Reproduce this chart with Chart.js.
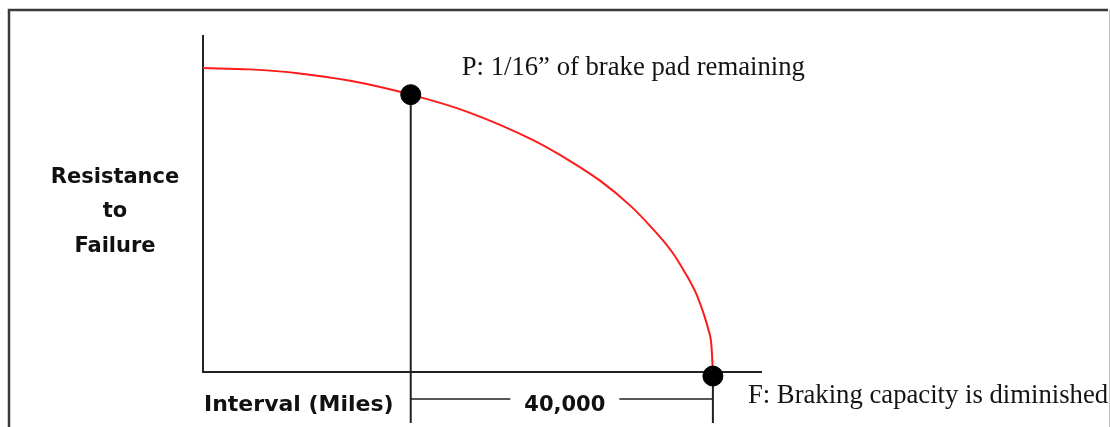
<!DOCTYPE html>
<html>
<head>
<meta charset="utf-8">
<script src="https://cdn.jsdelivr.net/npm/chart.js@4.4.1/dist/chart.umd.min.js"></script>
<style>
  html, body { margin: 0; padding: 0; background: #ffffff; }
  #wrap { position: relative; width: 1110px; height: 427px; overflow: hidden; }
  canvas { display: block; }
</style>
</head>
<body>
<div id="wrap"><canvas id="c" width="1110" height="427"></canvas></div>
<script>
// ---- data ----
const curveMiles      = [0, 6200, 12800, 19500, 27500, 35000, 43700, 48600, 52600, 56600, 59200, 61900, 63600, 65200, 66200, 66900, 67300, 67500];
const curveResistance = [90.2, 89.8, 88.6, 86.4, 82.3, 77.2, 68.8, 62.6, 56.7, 49.3, 43.3, 36.2, 30.3, 23.7, 17.8, 12.6, 8.0, 0];
const markerNames      = ['P', 'F'];
const markerMiles      = [27500, 67500];
const markerResistance = [82.3, -1.2];
const pLabel = 'P: 1/16\u201D of brake pad remaining';
const fLabel = 'F: Braking capacity is diminished';
const yTitleLines = ['Resistance', 'to', 'Failure'];
const xTitle = 'Interval (Miles)';
const intervalLabel = '40,000';
const xMax = 74000;
const yMax = 100;

const curveData  = curveMiles.map((m, i) => ({ x: m, y: curveResistance[i] }));
const markerData = markerMiles.map((m, i) => ({ x: m, y: markerResistance[i], name: markerNames[i] }));

const SANS  = '"DejaVu Sans", sans-serif';
const SERIF = '"Liberation Serif", "Times New Roman", serif';

const decor = {
  id: 'decor',
  beforeDatasetsDraw(chart) {
    const { ctx, chartArea: a, scales: { x, y } } = chart;
    ctx.save();
    // outer frame
    ctx.strokeStyle = '#3a3a3a';
    ctx.lineWidth = 2.5;
    ctx.beginPath();
    ctx.moveTo(9, 440); ctx.lineTo(9, 10); ctx.lineTo(1108, 10);
    ctx.stroke();
    ctx.strokeStyle = '#bdbdbd';
    ctx.lineWidth = 1;
    ctx.beginPath();
    ctx.moveTo(1109.5, 10); ctx.lineTo(1109.5, 440);
    ctx.stroke();

    // axes
    ctx.strokeStyle = '#222222';
    ctx.lineWidth = 2;
    ctx.beginPath();
    ctx.moveTo(x.getPixelForValue(0), a.top);
    ctx.lineTo(x.getPixelForValue(0), y.getPixelForValue(0));
    ctx.lineTo(x.getPixelForValue(xMax), y.getPixelForValue(0));
    ctx.stroke();

    // drop lines from P and F
    const bottom = a.bottom + 51;
    const dimY = a.bottom + 27;
    const px = x.getPixelForValue(markerMiles[0]);
    const fx = x.getPixelForValue(markerMiles[1]);
    ctx.beginPath();
    ctx.moveTo(px, y.getPixelForValue(markerResistance[0])); ctx.lineTo(px, bottom);
    ctx.moveTo(fx, y.getPixelForValue(markerResistance[1])); ctx.lineTo(fx, bottom);
    ctx.stroke();

    // dimension line with label
    ctx.font = 'bold 21px ' + SANS;
    const tw = ctx.measureText(intervalLabel).width;
    const mid = (px + fx) / 2 + 3;
    const gap = 14;
    ctx.lineWidth = 1.6;
    ctx.beginPath();
    ctx.moveTo(px, dimY); ctx.lineTo(mid - tw / 2 - gap, dimY);
    ctx.moveTo(mid + tw / 2 + gap, dimY); ctx.lineTo(fx, dimY);
    ctx.stroke();
    ctx.restore();
  },
  afterDraw(chart) {
    const { ctx, chartArea: a, scales: { x, y } } = chart;
    ctx.save();
    ctx.fillStyle = '#111111';
    ctx.textBaseline = 'alphabetic';

    // y title (three centered lines)
    ctx.font = 'bold 21px ' + SANS;
    ctx.textAlign = 'center';
    const yBase = [183, 217, 252];
    yTitleLines.forEach((t, i) => ctx.fillText(t, 115, yBase[i]));

    // x title
    ctx.textAlign = 'left';
    ctx.font = 'bold 22px ' + SANS;
    ctx.fillText(xTitle, x.getPixelForValue(0) + 1, a.bottom + 39);

    // interval label
    const px = x.getPixelForValue(markerMiles[0]);
    const fx = x.getPixelForValue(markerMiles[1]);
    ctx.font = 'bold 21px ' + SANS;
    ctx.textAlign = 'center';
    ctx.fillText(intervalLabel, (px + fx) / 2 + 3, a.bottom + 39);

    // point labels
    ctx.font = '26.7px ' + SERIF;
    ctx.textAlign = 'left';
    ctx.fillStyle = '#141414';
    ctx.fillText(pLabel, px + 51, y.getPixelForValue(markerResistance[0]) - 20);
    ctx.fillText(fLabel, fx + 35, y.getPixelForValue(markerResistance[1]) + 27);
    ctx.restore();
  }
};

new Chart(document.getElementById('c'), {
  type: 'line',
  data: {
    datasets: [
      {
        label: 'Resistance to failure',
        data: curveData,
        borderColor: '#ff1a1a',
        borderWidth: 2,
        pointRadius: 0,
        cubicInterpolationMode: 'monotone',
        fill: false,
        clip: false,
        order: 2
      },
      {
        type: 'scatter',
        label: 'P / F',
        data: markerData,
        backgroundColor: '#000000',
        borderColor: '#000000',
        pointRadius: 10,
        pointHoverRadius: 10,
        showLine: false,
        clip: false,
        order: 1
      }
    ]
  },
  options: {
    responsive: false,
    animation: false,
    events: [],
    layout: { padding: { left: 203, right: 348, top: 35, bottom: 55 } },
    plugins: { legend: { display: false }, tooltip: { enabled: false }, title: { display: false } },
    scales: {
      x: { type: 'linear', min: 0, max: xMax, display: false },
      y: { type: 'linear', min: 0, max: yMax, display: false }
    }
  },
  plugins: [decor]
});
</script>
</body>
</html>
